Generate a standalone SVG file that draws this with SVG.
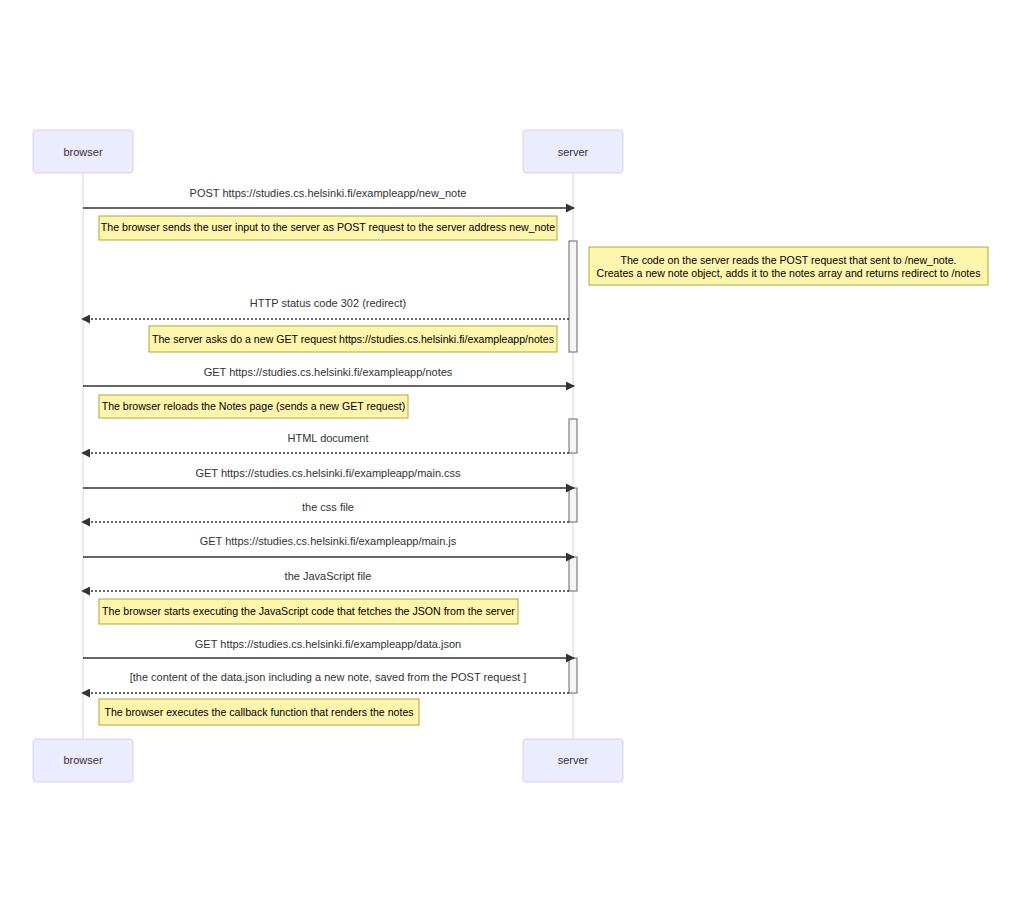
<svg xmlns="http://www.w3.org/2000/svg" width="1021" height="913" viewBox="0 0 1021 913">
<style>
text{font-family:"Liberation Sans",Arial,sans-serif;font-size:11px;fill:#333;text-anchor:middle}
.actor{fill:#ECECFF;stroke:#DACEF3;stroke-width:1}
.life{stroke:#DACEF3;stroke-width:1}
.msg{stroke:#333;stroke-width:1.3;fill:none}
.dot{stroke-dasharray:2,2}
.note{fill:#FFF5AD;stroke:#AAAA33;stroke-width:1}
text.note-t{fill:#000;font-size:10.6px}
.act{fill:#F4F4F4;stroke:#666;stroke-width:1}
</style>
<defs>
<marker id="ah" viewBox="0 0 10 10" refX="9" refY="5" markerWidth="9" markerHeight="9" markerUnits="userSpaceOnUse" orient="auto"><path d="M0,0 L10,5 L0,10 z" fill="#333"/></marker>
</defs>
<rect width="1021" height="913" fill="#fff"/>
<g id="lifelines">
<line class="life" x1="83" y1="173" x2="83" y2="739"/>
<line class="life" x1="573" y1="173" x2="573" y2="739"/>
</g>
<g id="actor-browser-top"><rect class="actor" x="33" y="130" width="100" height="43" rx="3"/><text x="83" y="156">browser</text></g>
<g id="actor-server-top"><rect class="actor" x="523" y="130" width="100" height="43" rx="3"/><text x="573" y="156">server</text></g>
<g id="actor-browser-bottom"><rect class="actor" x="33" y="739" width="100" height="43" rx="3"/><text x="83" y="764">browser</text></g>
<g id="actor-server-bottom"><rect class="actor" x="523" y="739" width="100" height="43" rx="3"/><text x="573" y="764">server</text></g>
<g id="activations">
<rect class="act" x="569" y="241" width="8" height="111"/>
<rect class="act" x="569" y="419" width="8" height="34"/>
<rect class="act" x="569" y="488" width="8" height="34"/>
<rect class="act" x="569" y="557" width="8" height="34"/>
<rect class="act" x="569" y="658" width="8" height="35"/>
</g>
<g id="connectors">
<text x="328" y="197">POST https://studies.cs.helsinki.fi/exampleapp/new_note</text>
<line class="msg" x1="83" y1="208" x2="574" y2="208" marker-end="url(#ah)"/>
<text x="328" y="307">HTTP status code 302 (redirect)</text>
<line class="msg dot" x1="569" y1="319" x2="82" y2="319" marker-end="url(#ah)"/>
<text x="328" y="376">GET https://studies.cs.helsinki.fi/exampleapp/notes</text>
<line class="msg" x1="83" y1="386" x2="574" y2="386" marker-end="url(#ah)"/>
<text x="328" y="442">HTML document</text>
<line class="msg dot" x1="569" y1="453" x2="82" y2="453" marker-end="url(#ah)"/>
<text x="328" y="477">GET https://studies.cs.helsinki.fi/exampleapp/main.css</text>
<line class="msg" x1="83" y1="488" x2="574" y2="488" marker-end="url(#ah)"/>
<text x="328" y="511">the css file</text>
<line class="msg dot" x1="569" y1="522" x2="82" y2="522" marker-end="url(#ah)"/>
<text x="328" y="545">GET https://studies.cs.helsinki.fi/exampleapp/main.js</text>
<line class="msg" x1="83" y1="557" x2="574" y2="557" marker-end="url(#ah)"/>
<text x="328" y="580">the JavaScript file</text>
<line class="msg dot" x1="569" y1="591" x2="82" y2="591" marker-end="url(#ah)"/>
<text x="328" y="648">GET https://studies.cs.helsinki.fi/exampleapp/data.json</text>
<line class="msg" x1="83" y1="658" x2="574" y2="658" marker-end="url(#ah)"/>
<text x="328" y="681">[the content of the data.json including a new note, saved from the POST request ]</text>
<line class="msg dot" x1="569" y1="693" x2="82" y2="693" marker-end="url(#ah)"/>
</g>
<g id="note1"><rect class="note" x="99" y="216" width="458" height="24"/><text class="note-t" x="328" y="231">The browser sends the user input to the server as POST request to the server address new_note</text></g>
<g id="note2"><rect class="note" x="589" y="247" width="399" height="38"/><text class="note-t" x="788.5" y="264">The code on the server reads the POST request that sent to /new_note.</text><text class="note-t" x="788.5" y="277">Creates a new note object, adds it to the notes array and returns redirect to /notes</text></g>
<g id="note3"><rect class="note" x="149" y="326" width="408" height="26"/><text class="note-t" x="353" y="343">The server asks do a new GET request https://studies.cs.helsinki.fi/exampleapp/notes</text></g>
<g id="note4"><rect class="note" x="99" y="395" width="309" height="23"/><text class="note-t" x="253.5" y="410">The browser reloads the Notes page (sends a new GET request)</text></g>
<g id="note5"><rect class="note" x="99" y="599" width="419" height="25"/><text class="note-t" x="308.5" y="615">The browser starts executing the JavaScript code that fetches the JSON from the server</text></g>
<g id="note6"><rect class="note" x="99" y="699" width="320" height="26"/><text class="note-t" x="259" y="716">The browser executes the callback function that renders the notes</text></g>
</svg>
